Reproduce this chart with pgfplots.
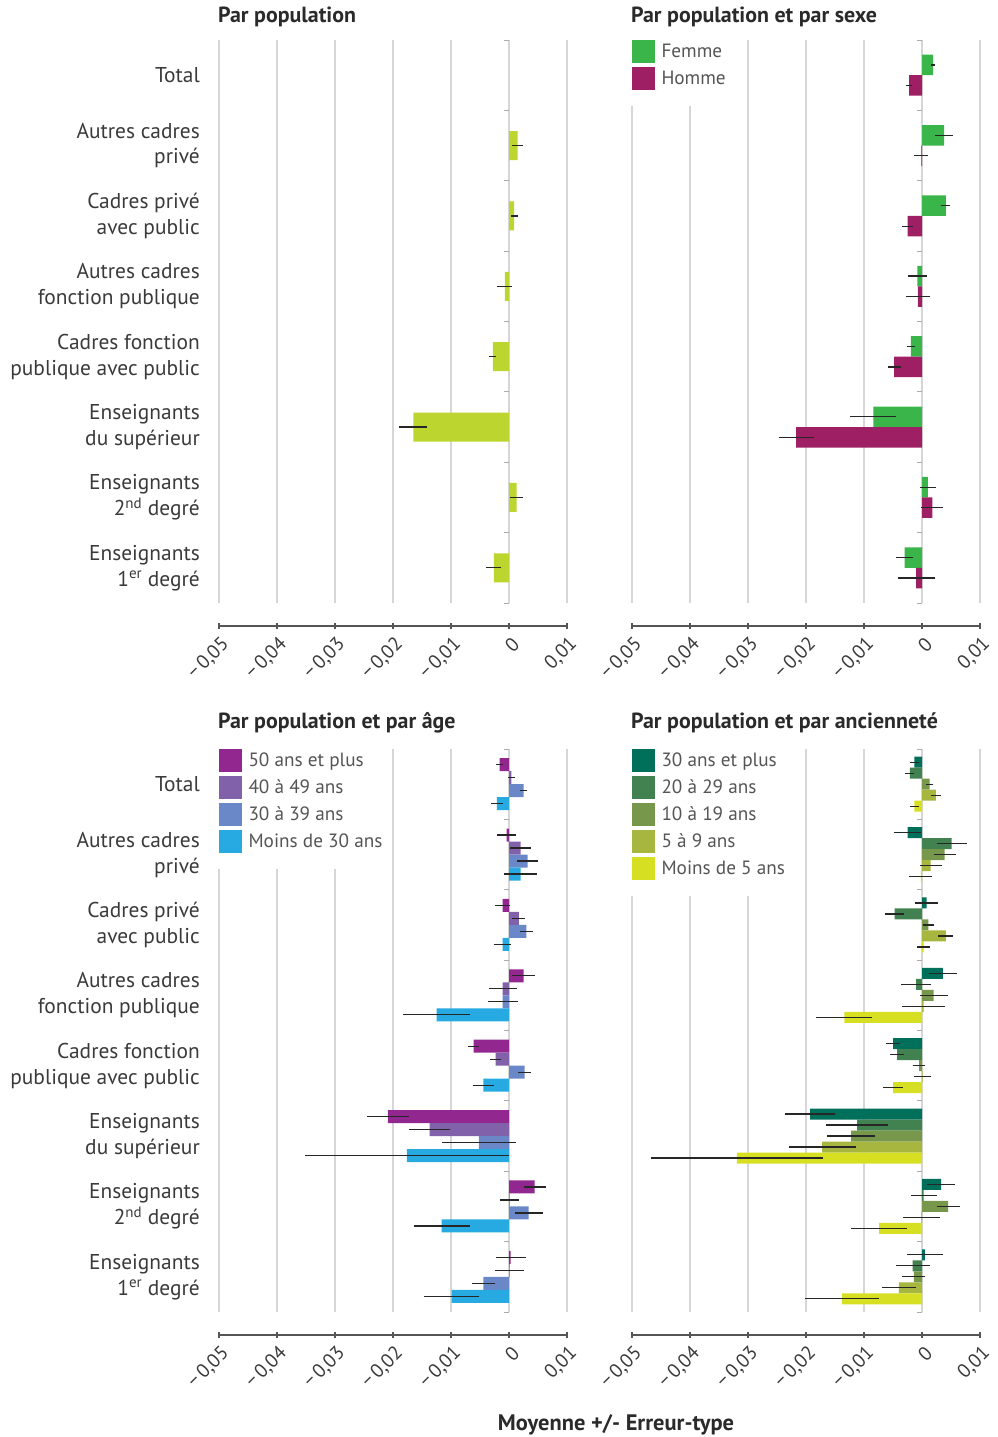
\documentclass[border=0pt]{standalone}
\usepackage{pgfplots}
\pgfplotsset{compat=1.18}
\usepackage{pgfplotstable}
\usepackage{fontspec}
\setmainfont{PT Sans}

\definecolor{cLime}{HTML}{BDD52F}
\definecolor{cFemme}{HTML}{3AB54A}
\definecolor{cHomme}{HTML}{9E1F63}
\definecolor{cA50}{HTML}{92278F}
\definecolor{cA40}{HTML}{8061AA}
\definecolor{cA30}{HTML}{6A88C7}
\definecolor{cA00}{HTML}{27AAE1}
\definecolor{cS30}{HTML}{00705A}
\definecolor{cS20}{HTML}{428150}
\definecolor{cS10}{HTML}{77984B}
\definecolor{cS05}{HTML}{A6B63F}
\definecolor{cS00}{HTML}{D7DF23}
\definecolor{gridgray}{HTML}{D6D6D6}
\definecolor{axgray}{HTML}{555555}
\definecolor{labelgray}{HTML}{3A3A3A}
\definecolor{legendgray}{HTML}{555555}
\definecolor{titlegray}{HTML}{2A2A2A}

% category index: 7 = Total (top) ... 0 = Enseignants 1er degre (bottom)
\pgfplotstableread{
c v e
6 0.0015 0.0009
5 0.0009 0.0006
4 -0.0007 0.0013
3 -0.0028 0.0006
2 -0.0165 0.0024
1 0.0013 0.0011
0 -0.0026 0.0013
}\tpop

\pgfplotstableread{
c F eF H eH
7 0.0019 0.0004 -0.0022 0.0005
6 0.0038 0.0015 -0.0001 0.0012
5 0.0041 0.0008 -0.0025 0.0009
4 -0.0008 0.0017 -0.0007 0.0020
3 -0.0019 0.0007 -0.0048 0.0011
2 -0.0084 0.0040 -0.0217 0.0030
1 0.0010 0.0014 0.0018 0.0019
0 -0.0030 0.0014 -0.0010 0.0032
}\tsexe

\pgfplotstableread{
c a50 e50 a40 e40 a30 e30 a00 e00
7 -0.0016 0.0006 0.0004 0.0006 0.0025 0.0006 -0.0021 0.0010
6 -0.0004 0.0016 0.0020 0.0018 0.0032 0.0018 0.0020 0.0028
5 -0.0011 0.0013 0.0017 0.0011 0.0030 0.0011 -0.0011 0.0015
4 0.0025 0.0020 -0.0011 0.0024 -0.0011 0.0026 -0.0125 0.0057
3 -0.0061 0.0009 -0.0023 0.0010 0.0027 0.0011 -0.0044 0.0018
2 -0.0209 0.0036 -0.0137 0.0036 -0.0052 0.0064 -0.0176 0.0176
1 0.0044 0.0019 0.0001 0.0017 0.0034 0.0024 -0.0116 0.0048
0 0.0003 0.0026 0.0001 0.0025 -0.0044 0.0020 -0.0099 0.0048
}\tage

\pgfplotstableread{
c s30 e30 s20 e20 s10 e10 s05 e05 s00 e00
7 -0.0013 0.00075 -0.0021 0.00075 0.0013 0.0006 0.0024 0.0008 -0.0013 0.0008
6 -0.0025 0.0023 0.0051 0.0026 0.0039 0.0019 0.0015 0.0019 -0.0002 0.0020
5 0.0008 0.0020 -0.0047 0.0016 0.0011 0.0010 0.0041 0.0013 0.0003 0.0011
4 0.0036 0.0024 -0.0010 0.0026 0.0020 0.0024 0.0003 0.0037 -0.0134 0.0048
3 -0.0050 0.0012 -0.0043 0.0012 -0.0005 0.0011 0.0001 0.0015 -0.0050 0.0017
2 -0.0193 0.0043 -0.0112 0.0053 -0.0122 0.0041 -0.0172 0.0058 -0.0319 0.0149
1 0.0033 0.0024 0.0003 0.0022 0.0045 0.0020 -0.0001 0.0032 -0.0074 0.0048
0 0.0005 0.0031 -0.0016 0.0029 -0.0014 0.0020 -0.0040 0.0029 -0.0138 0.0064
}\tanc

\pgfplotsset{
  panel/.style={
    scale only axis, width=348bp, height=563bp,
    xmin=-0.05, xmax=0.01, ymin=-0.5, ymax=7.5,
    clip=false,
    xbar, 
    scaled x ticks=false,
    axis x line*=bottom, axis y line*=left,
    axis x line shift=23bp,
    y axis line style={draw=none},
    ytick style={draw=none},
    x axis line style={line width=1.2bp, color=axgray},
    xtick style={line width=1.2bp, color=axgray},
    tick align=center, major tick length=6bp,
    xmajorgrids, grid style={line width=1.2bp, color=gridgray},
    xtick={-0.05,-0.04,-0.03,-0.02,-0.01,0,0.01},
    xticklabels={{−\,0,05},{−\,0,04},{−\,0,03},{−\,0,02},{−\,0,01},0,{0,01}},
    xticklabel style={xshift=7bp, yshift=-12bp, rotate=45, anchor=east, inner sep=0pt, font=\fontsize{19.5}{22}\selectfont, text=labelgray},
    ytick={0,...,7},
    yticklabel style={align=right, inner sep=0pt, xshift=-16bp, font=\fontsize{21.5}{26}\selectfont, text=labelgray},
    error bars/x dir=both, error bars/x explicit,
    error bars/error mark=none,
    error bars/error bar style={line width=1.3bp, color=black!85},
    legend cell align=left,
    legend style={at={(0,1)}, anchor=north west, draw=none, fill=none,
      inner sep=0pt, outer sep=0pt, row sep=4bp,
      font=\fontsize{19.3}{22}\selectfont, text=legendgray,
      nodes={inner sep=0pt}},
    legend image code/.code={\fill[##1, draw=none] (0bp,-11.5bp) rectangle (23bp,11.5bp); \path (29.5bp,0bp);},
  },
  leftlabels/.style={
    yticklabels={{Enseignants\\1\textsuperscript{er} degré},{Enseignants\\2\textsuperscript{nd} degré},{Enseignants\\du supérieur},{Cadres fonction\\publique avec public},{Autres cadres\\fonction publique},{Cadres privé\\avec public},{Autres cadres\\privé},Total},
  },
  nolabels/.style={yticklabels={}},
}

\newcommand{\zeroticks}{%
  \pgfplotsinvokeforeach{-0.5,0.5,...,7.5}{\draw[gridgray!80!black, line width=1bp] (axis cs:0,##1) -- ++(-5bp,0pt);}%
}

\begin{document}
\begin{tikzpicture}
\path[use as bounding box] (0bp,0bp) rectangle (998bp,-1437bp);

% ---------- Par population ----------
\begin{axis}[panel, leftlabels, at={(219bp,-603bp)}, anchor=south west, bar width=29bp]
\zeroticks
\addplot[xbar, fill=cLime, draw=none, bar shift=0bp] table[x=v, y=c, x error=e]{\tpop};
\end{axis}

% ---------- Par sexe ----------
\begin{axis}[panel, nolabels, at={(632bp,-603bp)}, anchor=south west, bar width=20.5bp]
\fill[white] ([xshift=-3bp,yshift=3bp]rel axis cs:0,1) rectangle ([xshift=103bp,yshift=-66bp]rel axis cs:0,1);
\zeroticks
\addplot[xbar, fill=cFemme, draw=none, bar shift=10.25bp] table[x=F, y=c, x error=eF]{\tsexe};
\addlegendentry{Femme}
\addplot[xbar, fill=cHomme, draw=none, bar shift=-10.25bp] table[x=H, y=c, x error=eH]{\tsexe};
\addlegendentry{Homme}
\end{axis}

% ---------- Par age ----------
\begin{axis}[panel, leftlabels, at={(219bp,-1312bp)}, anchor=south west, bar width=13bp]
\fill[white] ([xshift=-3bp,yshift=3bp]rel axis cs:0,1) rectangle ([xshift=167bp,yshift=-120bp]rel axis cs:0,1);
\zeroticks
\addplot[xbar, fill=cA50, draw=none, bar shift=19.5bp] table[x=a50, y=c, x error=e50]{\tage};
\addlegendentry{50 ans et plus}
\addplot[xbar, fill=cA40, draw=none, bar shift=6.5bp] table[x=a40, y=c, x error=e40]{\tage};
\addlegendentry{40 à 49 ans}
\addplot[xbar, fill=cA30, draw=none, bar shift=-6.5bp] table[x=a30, y=c, x error=e30]{\tage};
\addlegendentry{30 à 39 ans}
\addplot[xbar, fill=cA00, draw=none, bar shift=-19.5bp] table[x=a00, y=c, x error=e00]{\tage};
\addlegendentry{Moins de 30 ans}
\end{axis}

% ---------- Par anciennete ----------
\begin{axis}[panel, nolabels, at={(632bp,-1312bp)}, anchor=south west, bar width=11bp]
\fill[white] ([xshift=-3bp,yshift=3bp]rel axis cs:0,1) rectangle ([xshift=165bp,yshift=-147bp]rel axis cs:0,1);
\zeroticks
\addplot[xbar, fill=cS30, draw=none, bar shift=22bp] table[x=s30, y=c, x error=e30]{\tanc};
\addlegendentry{30 ans et plus}
\addplot[xbar, fill=cS20, draw=none, bar shift=11bp] table[x=s20, y=c, x error=e20]{\tanc};
\addlegendentry{20 à 29 ans}
\addplot[xbar, fill=cS10, draw=none, bar shift=0bp] table[x=s10, y=c, x error=e10]{\tanc};
\addlegendentry{10 à 19 ans}
\addplot[xbar, fill=cS05, draw=none, bar shift=-11bp] table[x=s05, y=c, x error=e05]{\tanc};
\addlegendentry{5 à 9 ans}
\addplot[xbar, fill=cS00, draw=none, bar shift=-22bp] table[x=s00, y=c, x error=e00]{\tanc};
\addlegendentry{Moins de 5 ans}
\end{axis}

% ---------- titles ----------
\begin{scope}[every node/.style={anchor=west, inner sep=0pt, font=\bfseries\fontsize{22}{26}\selectfont, text=titlegray}]
\node at (218bp,-16.5bp) {Par population};
\node at (631bp,-16.5bp) {Par population et par sexe};
\node at (218bp,-722.5bp) {Par population et par âge};
\node at (631bp,-722.5bp) {Par population et par ancienneté};
\end{scope}
\node[inner sep=0pt, font=\bfseries\fontsize{22.5}{26}\selectfont, text=titlegray] at (616bp,-1424.5bp) {Moyenne +/- Erreur-type};
\end{tikzpicture}
\end{document}
